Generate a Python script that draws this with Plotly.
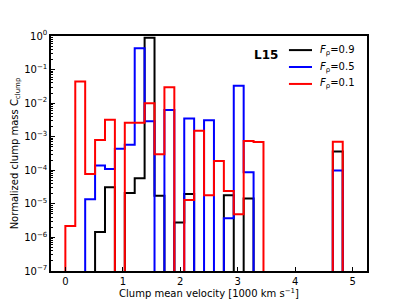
import numpy as np
import plotly.graph_objects as go

# Histogram bins: 29 equal bins between 0 and 5 (x 1000 km/s)
BIN_MIN, BIN_MAX, N_BINS = 0.0, 5.0, 29

# normalized clump mass per bin (0 = empty bin)
mass_f09 = [0, 0, 0, 1.45e-6, 3.1e-5, 0, 2.1e-5, 5.8e-5, 0.89, 1.75e-5,
            0, 2.8e-6, 1.95e-5, 0, 0, 0, 1.8e-5, 0, 1.45e-5, 0,
            0, 0, 0, 0, 0, 0, 0, 3.6e-4, 0]
mass_f05 = [0, 0, 1.36e-5, 1.38e-4, 1.1e-4, 4.4e-4, 5.8e-4, 0.43, 2.9e-3, 0,
            6.3e-3, 0, 3.5e-3, 0, 3.1e-3, 0, 3.7e-6, 0.033, 8.7e-5, 0,
            0, 0, 0, 0, 0, 0, 0, 9.8e-5, 0]
mass_f01 = [2.2e-6, 0.044, 7.8e-5, 8e-4, 3.2e-3, 0, 2.6e-3, 2.6e-3, 0.01, 3e-4,
            0.03, 0, 1.3e-5, 1.5e-3, 1.8e-5, 1.9e-4, 2.4e-5, 4.9e-6, 7.4e-4, 7e-4,
            0, 0, 0, 0, 0, 0, 0, 7.1e-4, 0]

series = [
    ("<i>F</i><sub>ρ</sub>=0.9", mass_f09, "black"),
    ("<i>F</i><sub>ρ</sub>=0.5", mass_f05, "blue"),
    ("<i>F</i><sub>ρ</sub>=0.1", mass_f01, "red"),
]

y_ticks = [10.0 ** k for k in range(-7, 1)]
y_ticktext = [f"10<sup>{'−' if k < 0 else ''}{abs(k)}</sup>" for k in range(-7, 1)]
y_minor = [m * 10.0 ** k for k in range(-7, 0) for m in range(2, 10)]

FLOOR = 1e-12  # below the axis, so empty bins run along the bottom


def step_outline(values):
    """matplotlib-style 'step' histogram outline."""
    edges = np.linspace(BIN_MIN, BIN_MAX, N_BINS + 1)
    v = np.where(np.asarray(values) > 0, values, FLOOR)
    xs = np.concatenate([[edges[0]], edges[:-1], [edges[-1]]])
    ys = np.concatenate([[FLOOR], v, [FLOOR]])
    return xs, ys


fig = go.Figure()
for name, vals, color in series:
    xs, ys = step_outline(vals)
    fig.add_trace(go.Scatter(x=xs, y=ys, mode="lines", name=name, showlegend=False,
                             line=dict(color=color, width=2, shape="hv")))

# hand-made legend (matplotlib-like: short line, label, tight rows)
for i, (name, _, color) in enumerate(series):
    ly = 0.940 - i * 0.072
    fig.add_shape(type="line", xref="paper", yref="paper",
                  x0=0.753, x1=0.826, y0=ly, y1=ly,
                  line=dict(color=color, width=2))
    fig.add_annotation(text=name, xref="paper", yref="paper", x=0.846, y=ly,
                       xanchor="left", yanchor="middle", showarrow=False,
                       font=dict(size=10, color="black"))

axis_common = dict(showline=True, linecolor="black", linewidth=1.5, mirror=True,
                   showgrid=False, zeroline=False, ticks="inside",
                   tickcolor="black", tickfont=dict(size=10, color="black"),
                   automargin=False)

fig.update_xaxes(range=[-0.25, 5.25], tickvals=[0, 1, 2, 3, 4, 5],
                 ticklen=4, tickwidth=1,
                 title=dict(text="Clump mean velocity [1000 km s<sup>−1</sup>]",
                            font=dict(size=10, color="black"), standoff=2),
                 **axis_common)
fig.update_yaxes(type="log", range=[-7, 0], tickvals=y_ticks, ticktext=y_ticktext,
                 ticklen=4, tickwidth=1,
                 minor=dict(tickvals=y_minor, ticks="inside", ticklen=2,
                            tickcolor="black", showgrid=False),
                 title=dict(text="Normalized clump mass C<sub>clump</sub>",
                            font=dict(size=10, color="black"), standoff=4),
                 **axis_common)

fig.add_annotation(text="<b>L15</b>", xref="paper", yref="paper",
                   x=0.68, y=0.918, xanchor="center", yanchor="middle",
                   showarrow=False, font=dict(size=12, color="black"))

# page body has an 8px margin, so the figure is drawn 8px smaller
fig.update_layout(
    width=399, height=297,
    margin=dict(l=43, r=40, t=28, b=34),
    paper_bgcolor="white", plot_bgcolor="white",
    font=dict(family="DejaVu Sans", size=10, color="black"),
    showlegend=False,
)

fig.write_html("out.html")
